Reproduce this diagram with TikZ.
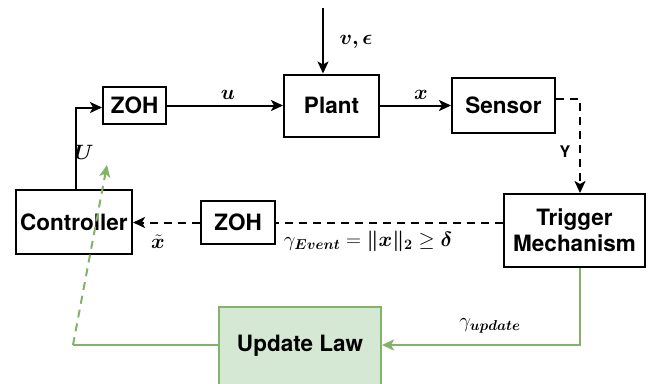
\documentclass[tikz,border=0pt]{standalone}
\usepackage{amsmath,amssymb,bm}
\usepackage{fontspec}
\setmainfont{TeX Gyre Heros}
\usetikzlibrary{arrows.meta}
\definecolor{gline}{HTML}{82B366}
\definecolor{gfill}{HTML}{D5E8D4}
\begin{document}
\begin{tikzpicture}[x=1pt,y=-1pt,
 blk/.style={draw=black, line width=2pt, font=\fontsize{22.5}{26}\selectfont\bfseries, align=center, inner sep=0pt},
 con/.style={line width=2pt, -{Stealth[length=12pt,width=11pt,inset=3pt]}},
 pln/.style={line width=2pt},
 dsh/.style={dash pattern=on 8pt off 6pt},
 lab/.style={font=\fontsize{21}{24}\selectfont, inner sep=0pt},
]
\useasboundingbox (0,0) rectangle (656,383);
\node[blk, minimum width=95pt, minimum height=62pt] (plant) at (331.5,105.5) {Plant};
\node[blk, minimum width=63pt, minimum height=37pt] (zoh1) at (134.5,105.5) {ZOH};
\node[blk, minimum width=103pt, minimum height=55pt] (sensor) at (503.5,105.5) {Sensor};
\node[blk, minimum width=141pt, minimum height=73pt] (trig) at (574.5,230.5) {Trigger\\Mechanism};
\node[blk, minimum width=74pt, minimum height=43pt] (zoh2) at (238,222.5) {ZOH};
\node[blk, minimum width=116pt, minimum height=64pt] (ctrl) at (74,222) {Controller};
\node[blk, draw=gline, fill=gfill, minimum width=162pt, minimum height=78pt] (upd) at (300,346) {Update Law};

\coordinate (dtop) at (323,8);
\coordinate (gc) at (580,345);
\coordinate (gl) at (73,345);
\coordinate (gt) at (107,165);

\draw[con] (dtop) -- (dtop |- plant.north);
\draw[con] (zoh1.east) -- (plant.west);
\draw[con] (plant.east) -- (sensor.west);
\draw[con,dsh] ([yshift=6.5pt]sensor.east) -| (gc |- trig.north);
\draw[pln,dsh] (trig.west |- zoh2.east) -- (zoh2.east);
\draw[con,dsh] (zoh2.west) -- (zoh2.west -| ctrl.east);
\draw[con] ([xshift=2pt]ctrl.north) |- ([yshift=-2pt]zoh1.west);
\draw[con,gline] (trig.south -| gc) |- (upd.east |- gc);
\draw[pln,gline] (upd.west |- gc) -- (gl);
\draw[con,gline,dsh] (gl) -- (gt);

\node[lab] (lv) at (356,42) {$\bm{v,\epsilon}$};
\node[lab] (lu) at (228,95) {$\bm{u}$};
\node[lab] (lx) at (421,95) {$\bm{x}$};
\node[lab] (lU) at (84,152) {$\bm{U}$};
\node[font=\fontsize{16}{18}\selectfont\bfseries, inner sep=0pt] (lY) at (565,152) {Y};
\node[lab] (lxt) at (158,242) {$\bm{\tilde{x}}$};
\node[lab] (lev) at (368,241) {$\gamma_{\bm{Event}} =\bm{\|x\|_2} \geq \bm{\delta}$};
\node[lab] (lup) at (490,326) {$\gamma_{\bm{update}}$};
\end{tikzpicture}
\end{document}
